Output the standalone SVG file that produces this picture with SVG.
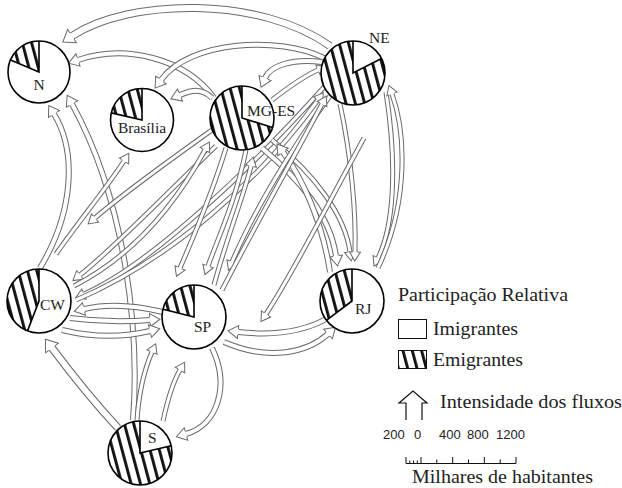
<svg xmlns="http://www.w3.org/2000/svg" width="622" height="488" viewBox="0 0 622 488">
<defs>
<pattern id="hatch" patternUnits="userSpaceOnUse" width="9" height="12" patternTransform="rotate(-15)">
<rect x="0" y="0" width="2.9" height="12" fill="#111"/>
</pattern>
<marker id="m3" markerUnits="userSpaceOnUse" orient="auto" markerWidth="24" markerHeight="24" viewBox="-2 -12 24 24" refX="0" refY="0" overflow="visible">
<path d="M0,-5.5 L9,0 L0,5.5 Z" fill="#fff"/>
<path d="M0,-2.5 L0,-5.5 L9,0 L0,5.5 L0,2.5" fill="none" stroke="#6a6a6a" stroke-width="1"/>
</marker>
<marker id="m4" markerUnits="userSpaceOnUse" orient="auto" markerWidth="24" markerHeight="24" viewBox="-2 -12 24 24" refX="0" refY="0" overflow="visible">
<path d="M0,-6.5 L10,0 L0,6.5 Z" fill="#fff"/>
<path d="M0,-3 L0,-6.5 L10,0 L0,6.5 L0,3" fill="none" stroke="#6a6a6a" stroke-width="1"/>
</marker>
<marker id="m6" markerUnits="userSpaceOnUse" orient="auto" markerWidth="24" markerHeight="24" viewBox="-2 -12 24 24" refX="0" refY="0" overflow="visible">
<path d="M0,-8 L11,0 L0,8 Z" fill="#fff"/>
<path d="M0,-4 L0,-8 L11,0 L0,8 L0,4" fill="none" stroke="#6a6a6a" stroke-width="1"/>
</marker>
</defs>
<style>
.o{fill:none;stroke:#6a6a6a}
.i{fill:none;stroke:#fff}
.w3 .o{stroke-width:5}
.w3 .i{stroke-width:3;marker-end:url(#m3)}
.w4 .o{stroke-width:6}
.w4 .i{stroke-width:4;marker-end:url(#m4)}
.w6 .o{stroke-width:8}
.w6 .i{stroke-width:6;marker-end:url(#m6)}
.disc{fill:#fff;stroke:none}
.hat{fill:url(#hatch);stroke:none}
.edge{fill:none;stroke:#000;stroke-width:1.6}
.ring{fill:none;stroke:#000;stroke-width:1.6}
.lbl{font-size:15.5px;fill:#222}
.leg{font-size:19px;fill:#222}
.num{font-size:13px;fill:#222}
</style>
<rect width="622" height="488" fill="#fff"/>

<g id="connectors">
<g class="w6"><path class="o" d="M330,46 C260,-4 130,-2 72,36"/><path class="i" d="M330,46 C260,-4 130,-2 72,36"/></g>
<g class="w4"><path class="o" d="M214,98 C185,58 125,44 78,60"/><path class="i" d="M214,98 C185,58 125,44 78,60"/></g>
<g class="w4"><path class="o" d="M324,58 C280,36 190,40 161,80"/><path class="i" d="M324,58 C280,36 190,40 161,80"/></g>
<g class="w4"><path class="o" d="M212,98 C202,88 192,90 180,95"/><path class="i" d="M212,98 C202,88 192,90 180,95"/></g>
<g class="w4"><path class="o" d="M322,62 C292,58 270,66 265,78"/><path class="i" d="M322,62 C292,58 270,66 265,78"/></g>
<g class="w3"><path class="o" d="M272,100 C290,86 304,76 318,70"/><path class="i" d="M272,100 C290,86 304,76 318,70"/></g>
<g class="w4"><path class="o" d="M40,268 C75,210 76,150 54,114"/><path class="i" d="M40,268 C75,210 76,150 54,114"/></g>
<g class="w4"><path class="o" d="M133,420 C140,330 125,200 72,104"/><path class="i" d="M133,420 C140,330 125,200 72,104"/></g>
<g class="w3"><path class="o" d="M56,254 C80,220 108,186 124,161"/><path class="i" d="M56,254 C80,220 108,186 124,161"/></g>
<g class="w3"><path class="o" d="M212,130 C170,160 125,192 95,218"/><path class="i" d="M212,130 C170,160 125,192 95,218"/></g>
<g class="w3"><path class="o" d="M216,146 C160,200 112,250 80,275"/><path class="i" d="M216,146 C160,200 112,250 80,275"/></g>
<g class="w3"><path class="o" d="M325,86 C250,170 150,265 84,294"/><path class="i" d="M325,86 C250,170 150,265 84,294"/></g>
<g class="w3"><path class="o" d="M74,286 C140,252 180,196 205,150"/><path class="i" d="M74,286 C140,252 180,196 205,150"/></g>
<g class="w3"><path class="o" d="M76,300 C170,260 260,180 318,100"/><path class="i" d="M76,300 C170,260 260,180 318,100"/></g>
<g class="w4"><path class="o" d="M163,312 C130,304 105,304 84,309"/><path class="i" d="M163,312 C130,304 105,304 84,309"/></g>
<g class="w4"><path class="o" d="M70,318 C100,322 125,322 150,320"/><path class="i" d="M70,318 C100,322 125,322 150,320"/></g>
<g class="w4"><path class="o" d="M62,330 C95,338 125,337 150,331"/><path class="i" d="M62,330 C95,338 125,337 150,331"/></g>
<g class="w6"><path class="o" d="M118,428 C92,400 70,372 52,348"/><path class="i" d="M118,428 C92,400 70,372 52,348"/></g>
<g class="w3"><path class="o" d="M137,420 C139,392 145,368 152,352"/><path class="i" d="M137,420 C139,392 145,368 152,352"/></g>
<g class="w3"><path class="o" d="M163,421 C168,398 174,380 180,370"/><path class="i" d="M163,421 C168,398 174,380 180,370"/></g>
<g class="w4"><path class="o" d="M212,348 C230,385 218,425 186,434"/><path class="i" d="M212,348 C230,385 218,425 186,434"/></g>
<g class="w4"><path class="o" d="M328,318 C300,334 265,335 238,332"/><path class="i" d="M328,318 C300,334 265,335 238,332"/></g>
<g class="w4"><path class="o" d="M224,342 C270,362 308,352 328,334"/><path class="i" d="M224,342 C270,362 308,352 328,334"/></g>
<g class="w4"><path class="o" d="M262,148 C300,180 330,215 336,256"/><path class="i" d="M262,148 C300,180 330,215 336,256"/></g>
<g class="w3"><path class="o" d="M272,140 C315,175 345,215 350,252"/><path class="i" d="M272,140 C315,175 345,215 350,252"/></g>
<g class="w3"><path class="o" d="M340,104 C352,160 356,215 355,252"/><path class="i" d="M340,104 C352,160 356,215 355,252"/></g>
<g class="w3"><path class="o" d="M386,92 C398,170 393,228 378,258"/><path class="i" d="M386,92 C398,170 393,228 378,258"/></g>
<g class="w3"><path class="o" d="M378,268 C410,200 405,130 392,94"/><path class="i" d="M378,268 C410,200 405,130 392,94"/></g>
<g class="w4"><path class="o" d="M330,272 C322,220 302,178 283,152"/><path class="i" d="M330,272 C322,220 302,178 283,152"/></g>
<g class="w3"><path class="o" d="M226,148 C210,200 192,240 180,268"/><path class="i" d="M226,148 C210,200 192,240 180,268"/></g>
<g class="w3"><path class="o" d="M246,150 C236,200 218,238 208,266"/><path class="i" d="M246,150 C236,200 218,238 208,266"/></g>
<g class="w3"><path class="o" d="M214,285 C226,240 244,195 251,166"/><path class="i" d="M214,285 C226,240 244,195 251,166"/></g>
<g class="w3"><path class="o" d="M330,96 C290,150 252,215 232,262"/><path class="i" d="M330,96 C290,150 252,215 232,262"/></g>
<g class="w3"><path class="o" d="M222,290 C258,220 298,150 322,104"/><path class="i" d="M222,290 C258,220 298,150 322,104"/></g>
<g class="w3"><path class="o" d="M364,138 C330,200 292,275 266,314"/><path class="i" d="M364,138 C330,200 292,275 266,314"/></g>
</g>

<g font-family="Liberation Serif, Times New Roman, serif">
<g id="node-N">
<circle class="disc" cx="39" cy="72" r="31"/>
<path class="hat" d="M39,72 L10.5,59.9 A31,31 0 0,1 39,41 Z"/>
<path class="edge" d="M10.5,59.9 L39,72 L39,41"/>
<circle class="ring" cx="39" cy="72" r="31"/>
<text class="lbl" x="39" y="90" text-anchor="middle">N</text>
</g>
<g id="node-Brasilia">
<circle class="disc" cx="142" cy="120" r="31.5"/>
<path class="hat" d="M142,120 L111.3,112.9 A31.5,31.5 0 0,1 142,88.5 Z"/>
<path class="edge" d="M111.3,112.9 L142,120 L142,88.5"/>
<circle class="ring" cx="142" cy="120" r="31.5"/>
<text class="lbl" x="142" y="133" text-anchor="middle">Brasília</text>
</g>
<g id="node-MGES">
<circle class="disc" cx="242" cy="118" r="32"/>
<path class="hat" d="M242,118 L272.6,127.4 A32,32 0 1,1 242,86 Z"/>
<path class="edge" d="M272.6,127.4 L242,118 L242,86"/>
<circle class="ring" cx="242" cy="118" r="32"/>
<text class="lbl" x="247" y="116">MG-ES</text>
</g>
<g id="node-NE">
<circle class="disc" cx="353" cy="73" r="32"/>
<path class="hat" d="M353,73 L381.5,58.5 A32,32 0 1,1 353,41 Z"/>
<path class="edge" d="M381.5,58.5 L353,73 L353,41"/>
<circle class="ring" cx="353" cy="73" r="32"/>
<text class="lbl" x="369" y="43">NE</text>
</g>
<g id="node-CW">
<circle class="disc" cx="39" cy="301" r="32"/>
<path class="hat" d="M39,301 L27.5,330.9 A32,32 0 0,1 39,269 Z"/>
<path class="edge" d="M27.5,330.9 L39,301 L39,269"/>
<circle class="ring" cx="39" cy="301" r="32"/>
<text class="lbl" x="40" y="310">CW</text>
</g>
<g id="node-SP">
<circle class="disc" cx="194" cy="317" r="32"/>
<path class="hat" d="M194,317 L163,309.3 A32,32 0 0,1 194,285 Z"/>
<path class="edge" d="M163,309.3 L194,317 L194,285"/>
<circle class="ring" cx="194" cy="317" r="32"/>
<text class="lbl" x="194" y="332">SP</text>
</g>
<g id="node-RJ">
<circle class="disc" cx="352" cy="301" r="32"/>
<path class="hat" d="M352,301 L326.4,320.3 A32,32 0 0,1 352,269 Z"/>
<path class="edge" d="M326.4,320.3 L352,301 L352,269"/>
<circle class="ring" cx="352" cy="301" r="32"/>
<text class="lbl" x="355" y="314">RJ</text>
</g>
<g id="node-S">
<circle class="disc" cx="140" cy="453" r="32"/>
<path class="hat" d="M140,453 L171.2,445.8 A32,32 0 1,1 140,421 Z"/>
<path class="edge" d="M171.2,445.8 L140,453 L140,421"/>
<circle class="ring" cx="140" cy="453" r="32"/>
<text class="lbl" x="148" y="443">S</text>
</g>

<g id="legend">
<text class="leg" x="398" y="301" textLength="170" lengthAdjust="spacingAndGlyphs">Participação Relativa</text>
<rect x="398.5" y="319.5" width="28" height="19" fill="#fff" stroke="#111" stroke-width="1"/>
<text class="leg" x="433" y="335" textLength="85" lengthAdjust="spacingAndGlyphs">Imigrantes</text>
<rect x="398.5" y="350.5" width="28" height="18" fill="url(#hatch)" stroke="#111" stroke-width="1"/>
<text class="leg" x="433" y="366" textLength="90" lengthAdjust="spacingAndGlyphs">Emigrantes</text>
<path d="M406,420 L406,403 L399,403 L413,391 L427,403 L422,403 L422,420" fill="none" stroke="#111" stroke-width="1.2"/>
<text class="leg" x="440" y="408" textLength="182" lengthAdjust="spacingAndGlyphs">Intensidade dos fluxos</text>
<g font-family="Liberation Sans, Arial, sans-serif">
<text class="num" x="383" y="439">200</text>
<text class="num" x="414" y="439">0</text>
<text class="num" x="439" y="439">400</text>
<text class="num" x="467" y="439">800</text>
<text class="num" x="496" y="439">1200</text>
</g>
<path d="M406,463.5 H516 M406,457 V463.5 M409.8,460.5 V463.5 M413.5,460.5 V463.5 M417.3,460.5 V463.5 M421,457 V463.5 M436.8,459.5 V463.5 M452.7,457 V463.5 M468.5,459.5 V463.5 M484.3,457 V463.5 M500.2,459.5 V463.5 M516,457 V463.5" fill="none" stroke="#111" stroke-width="1"/>
<text class="leg" x="412" y="483" textLength="181" lengthAdjust="spacingAndGlyphs">Milhares de habitantes</text>
</g>
</g>
</svg>
